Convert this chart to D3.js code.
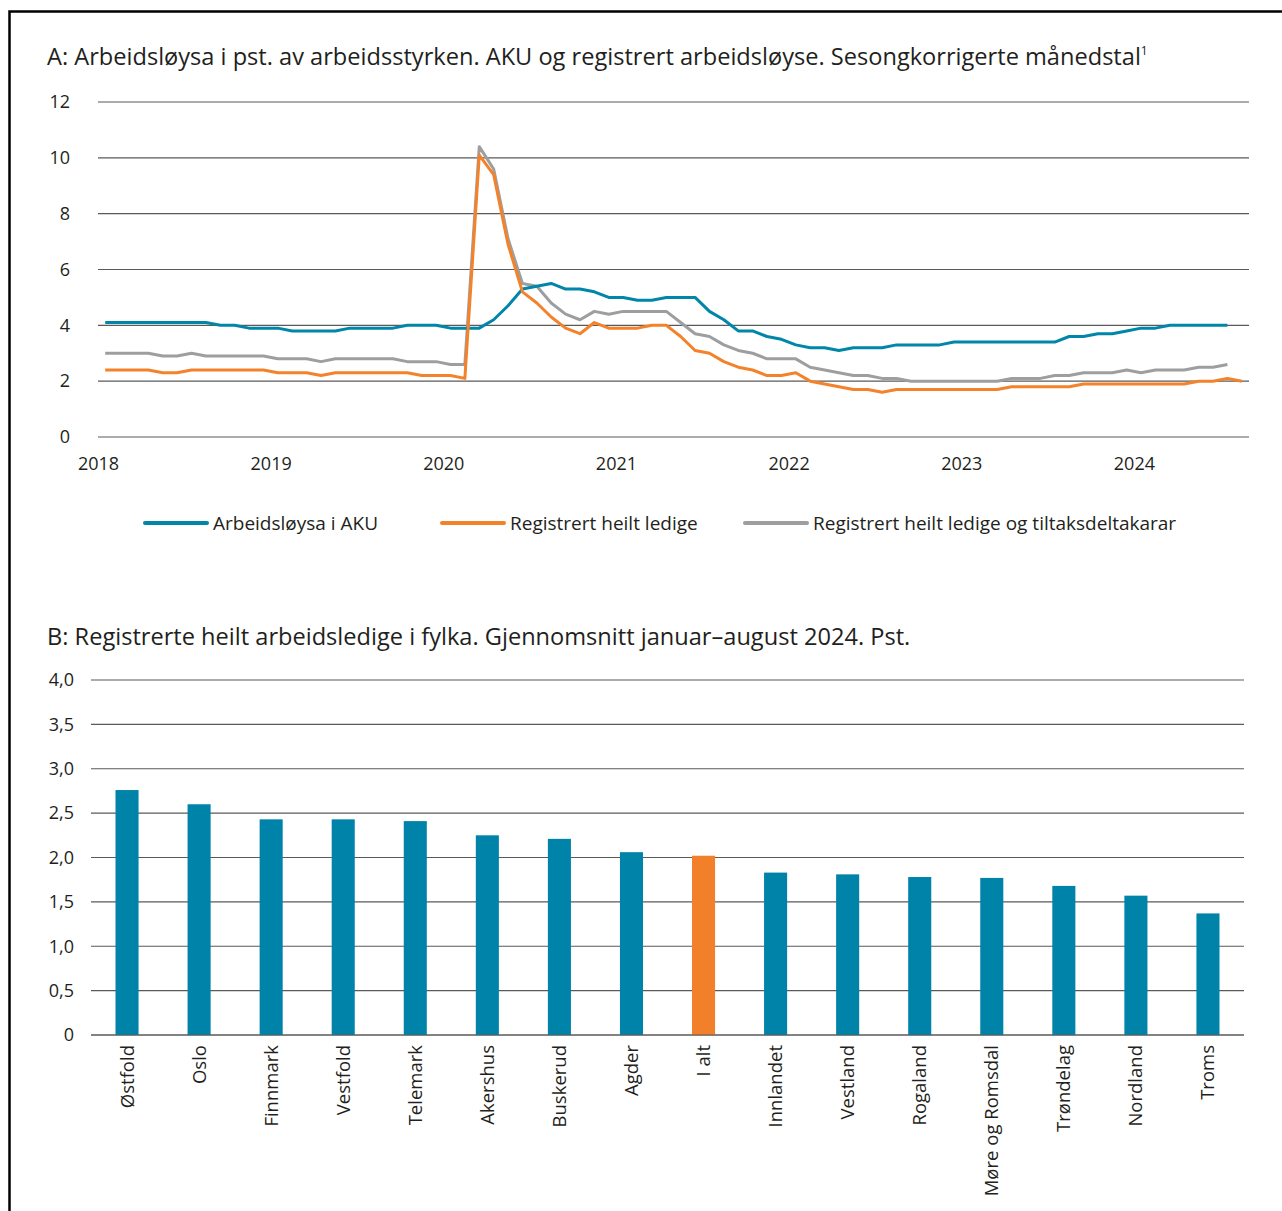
<!DOCTYPE html>
<html>
<head>
<meta charset="utf-8">
<script src="https://cdn.jsdelivr.net/npm/d3@7"></script>
<style>
  body { margin: 0; background: #fff; }
  svg text { font-family: "Open Sans", "Noto Sans", sans-serif; fill: #231f20; }
  .grid line { stroke: #5a5a5a; stroke-width: 1.2px; }
  .series { fill: none; stroke-width: 3px; stroke-linejoin: round; }
</style>
</head>
<body>
<svg id="chart" width="1282" height="1211"></svg>
<script>
// --- panel A: monthly values from jan 2018 ---
var years = [2018, 2019, 2020, 2021, 2022, 2023, 2024];

var aku = [
  4.1,4.1,4.1,4.1,4.1,4.1,4.1,4.1,4.0,4.0,3.9,3.9,
  3.9,3.8,3.8,3.8,3.8,3.9,3.9,3.9,3.9,4.0,4.0,4.0,
  3.9,3.9,3.9,4.2,4.7,5.3,5.4,5.5,5.3,5.3,5.2,5.0,
  5.0,4.9,4.9,5.0,5.0,5.0,4.5,4.2,3.8,3.8,3.6,3.5,
  3.3,3.2,3.2,3.1,3.2,3.2,3.2,3.3,3.3,3.3,3.3,3.4,
  3.4,3.4,3.4,3.4,3.4,3.4,3.4,3.6,3.6,3.7,3.7,3.8,
  3.9,3.9,4.0,4.0,4.0,4.0,4.0
];

var ledige = [
  2.4,2.4,2.4,2.4,2.3,2.3,2.4,2.4,2.4,2.4,2.4,2.4,
  2.3,2.3,2.3,2.2,2.3,2.3,2.3,2.3,2.3,2.3,2.2,2.2,
  2.2,2.1,10.1,9.4,6.9,5.2,4.8,4.3,3.9,3.7,4.1,3.9,
  3.9,3.9,4.0,4.0,3.6,3.1,3.0,2.7,2.5,2.4,2.2,2.2,
  2.3,2.0,1.9,1.8,1.7,1.7,1.6,1.7,1.7,1.7,1.7,1.7,
  1.7,1.7,1.7,1.8,1.8,1.8,1.8,1.8,1.9,1.9,1.9,1.9,
  1.9,1.9,1.9,1.9,2.0,2.0,2.1,2.0
];

var ledigeTiltak = [
  3.0,3.0,3.0,3.0,2.9,2.9,3.0,2.9,2.9,2.9,2.9,2.9,
  2.8,2.8,2.8,2.7,2.8,2.8,2.8,2.8,2.8,2.7,2.7,2.7,
  2.6,2.6,10.4,9.6,7.1,5.5,5.4,4.8,4.4,4.2,4.5,4.4,
  4.5,4.5,4.5,4.5,4.1,3.7,3.6,3.3,3.1,3.0,2.8,2.8,
  2.8,2.5,2.4,2.3,2.2,2.2,2.1,2.1,2.0,2.0,2.0,2.0,
  2.0,2.0,2.0,2.1,2.1,2.1,2.2,2.2,2.3,2.3,2.3,2.4,
  2.3,2.4,2.4,2.4,2.5,2.5,2.6
];

var seriesNames = ["Arbeidsløysa i AKU", "Registrert heilt ledige", "Registrert heilt ledige og tiltaksdeltakarar"];
var seriesColors = ["#0086a9", "#f4822a", "#9d9ea0"];
var yTicksA = [0, 2, 4, 6, 8, 10, 12];

// --- panel B: fylke, snitt jan-aug 2024 ---
var fylker = ["Østfold","Oslo","Finnmark","Vestfold","Telemark","Akershus","Buskerud","Agder",
              "I alt","Innlandet","Vestland","Rogaland","Møre og Romsdal","Trøndelag","Nordland","Troms"];
var fylkeVerdi = [2.76,2.60,2.43,2.43,2.41,2.25,2.21,2.06,2.02,1.83,1.81,1.78,1.77,1.68,1.57,1.37];
var yTicksB = [0, 0.5, 1, 1.5, 2, 2.5, 3, 3.5, 4];

var svg = d3.select("#chart");

// frame, runs off the right and bottom of the picture
svg.append("rect")
  .attr("x", 9.5).attr("y", 11.5)
  .attr("width", 1300).attr("height", 1300)
  .attr("fill", "none").attr("stroke", "#000").attr("stroke-width", 2.5);

// ---------- A ----------
var titleA = svg.append("text")
  .attr("x", 47).attr("y", 65)
  .style("font-size", "23.6px");
titleA.append("tspan").text("A: Arbeidsløysa i pst. av arbeidsstyrken. AKU og registrert arbeidsløyse. Sesongkorrigerte månedstal");
titleA.append("tspan").text("1").attr("dy", -10).style("font-size", "12px");

var xA = d3.scaleLinear().domain([0, 80]).range([98, 1249]);
var yA = d3.scaleLinear().domain([0, 12]).range([437, 102]);

var gridA = svg.append("g").attr("class", "grid");
gridA.selectAll("line").data(yTicksA).enter().append("line")
  .attr("x1", xA(0)).attr("x2", xA(80))
  .attr("y1", function(d){ return yA(d); })
  .attr("y2", function(d){ return yA(d); });

var yAxisA = d3.axisLeft(yA).tickValues(yTicksA).tickSize(0).tickPadding(28);
svg.append("g").attr("transform", "translate(" + xA(0) + ",0)").call(yAxisA)
  .call(function(g){ g.select(".domain").remove(); })
  .selectAll("text").style("font-size", "18px").style("font-family", null);

var xAxisA = d3.axisBottom(xA)
  .tickValues(years.map(function(y){ return (y - 2018) * 12; }))
  .tickFormat(function(d){ return years[d / 12]; })
  .tickSize(0).tickPadding(20);
svg.append("g").attr("transform", "translate(0," + yA(0) + ")").call(xAxisA)
  .call(function(g){ g.select(".domain").remove(); })
  .selectAll("text").style("font-size", "18px").style("font-family", null);

var line = d3.line()
  .x(function(d, i){ return xA(i + 0.5); })
  .y(function(d){ return yA(d); });

// grey first, then blue, orange on top
[[ledigeTiltak, 2], [aku, 0], [ledige, 1]].forEach(function(s){
  svg.append("path").attr("class", "series")
    .attr("d", line(s[0]))
    .attr("stroke", seriesColors[s[1]]);
});

// legend
var legendX = [145, 442, 745];
var leg = svg.append("g").attr("transform", "translate(0,523)");
seriesNames.forEach(function(n, i){
  leg.append("line")
    .attr("x1", legendX[i]).attr("x2", legendX[i] + 62)
    .attr("y1", 0).attr("y2", 0)
    .attr("stroke", seriesColors[i]).attr("stroke-width", 4).attr("stroke-linecap", "round");
  leg.append("text")
    .attr("x", legendX[i] + 68).attr("y", 0).attr("dy", "0.35em")
    .style("font-size", "19px")
    .text(n);
});

// ---------- B ----------
svg.append("text")
  .attr("x", 47).attr("y", 645)
  .style("font-size", "23.6px")
  .text("B: Registrerte heilt arbeidsledige i fylka. Gjennomsnitt januar–august 2024. Pst.");

var xB = d3.scaleBand().domain(fylker).range([91, 1244]).paddingInner(0.68).paddingOuter(0.34);
var yB = d3.scaleLinear().domain([0, 4]).range([1035, 680]);

var gridB = svg.append("g").attr("class", "grid");
gridB.selectAll("line").data(yTicksB).enter().append("line")
  .attr("x1", 91).attr("x2", 1244)
  .attr("y1", function(d){ return yB(d); })
  .attr("y2", function(d){ return yB(d); });

var fmt = function(d){ return d === 0 ? "0" : d3.format(".1f")(d).replace(".", ","); };
var yAxisB = d3.axisLeft(yB).tickValues(yTicksB).tickFormat(fmt).tickSize(0).tickPadding(17);
svg.append("g").attr("transform", "translate(91,0)").call(yAxisB)
  .call(function(g){ g.select(".domain").remove(); })
  .selectAll("text").style("font-size", "18px").style("font-family", null);

svg.append("g").selectAll("rect").data(fylker).enter().append("rect")
  .attr("x", function(d){ return xB(d); })
  .attr("width", xB.bandwidth())
  .attr("y", function(d, i){ return yB(fylkeVerdi[i]); })
  .attr("height", function(d, i){ return yB(0) - yB(fylkeVerdi[i]); })
  .attr("fill", function(d){ return d === "I alt" ? "#f2802a" : "#0083a9"; });

// redraw zero line over bars
svg.append("line").attr("class", "grid")
  .attr("x1", 91).attr("x2", 1244).attr("y1", yB(0)).attr("y2", yB(0))
  .attr("stroke", "#5a5a5a").attr("stroke-width", 1.2);

svg.append("g").selectAll("text").data(fylker).enter().append("text")
  .attr("transform", function(d){
    return "translate(" + (xB(d) + xB.bandwidth() / 2) + "," + (yB(0) + 10) + ") rotate(-90)";
  })
  .attr("text-anchor", "end")
  .attr("dy", "0.35em")
  .style("font-size", "18.5px")
  .text(function(d){ return d; });
</script>
</body>
</html>
